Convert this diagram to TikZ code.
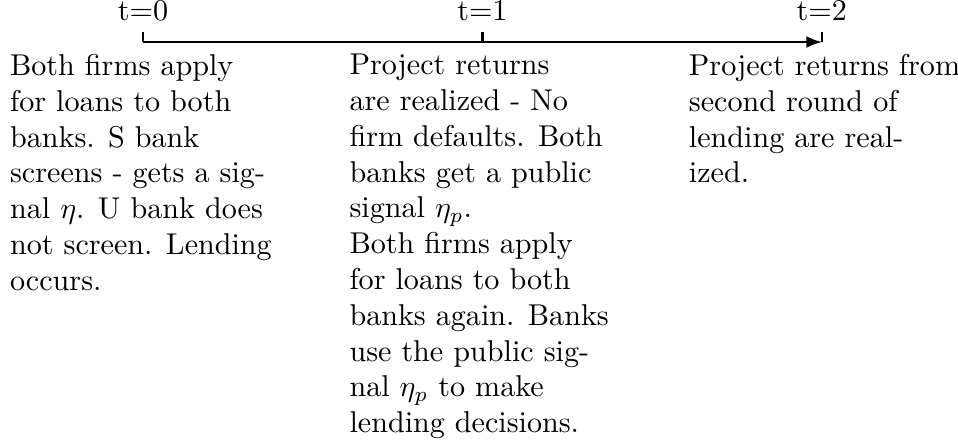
\documentclass[tikz,border=0pt]{standalone}
\usetikzlibrary{arrows}

\begin{document}
\begin{tikzpicture}[stage/.style={align=left, anchor=north west, font=\fontsize{10.1}{12}\selectfont},
	date/.style={above, font=\fontsize{10.1}{12}\selectfont}]
	\useasboundingbox (-1.685,-4.773) rectangle (9.605,0.495);

	% Time points on the axis
	\coordinate (t0) at (0,0);
	\coordinate (t1) at (4,0);
	\coordinate (t2) at (8,0);
	\coordinate (h0) at (0,0.12);
	\coordinate (h1) at (4,0.12);
	\coordinate (h2) at (8,0.12);
	\coordinate (b0) at (-1.69,-0.02);
	\coordinate (b1) at (2.31,-0.02);
	\coordinate (b2) at (6.31,-0.02);

	% Axis and ticks
	\draw[->, >=latex, thick] (t0) -- (t2);
	\draw[thick] (t0) -- (h0);
	\draw[thick] (t1) -- (h1);
	\draw[thick] (t2) -- (h2);

	% Dates
	\node[date] (d0) at (h0) {t=0};
	\node[date] (d1) at (h1) {t=1};
	\node[date] (d2) at (h2) {t=2};

	% What happens at each date
	\node[stage] (s0) at (b0) {Both firms apply\\ for loans to both\\ banks. S bank\\ screens - gets a sig-\\ nal $\eta$. U bank does\\ not screen. Lending\\ occurs.};
	\node[stage] (s1) at (b1) {Project returns\\ are realized - No\\ firm defaults. Both\\ banks get a public\\ signal $\eta_p$.\\ Both firms apply\\ for loans to both\\ banks again. Banks\\ use the public sig-\\ nal $\eta_p$ to make\\ lending decisions.};
	\node[stage] (s2) at (b2) {Project returns from\\ second round of\\ lending are real-\\ ized.};
\end{tikzpicture}
\end{document}
